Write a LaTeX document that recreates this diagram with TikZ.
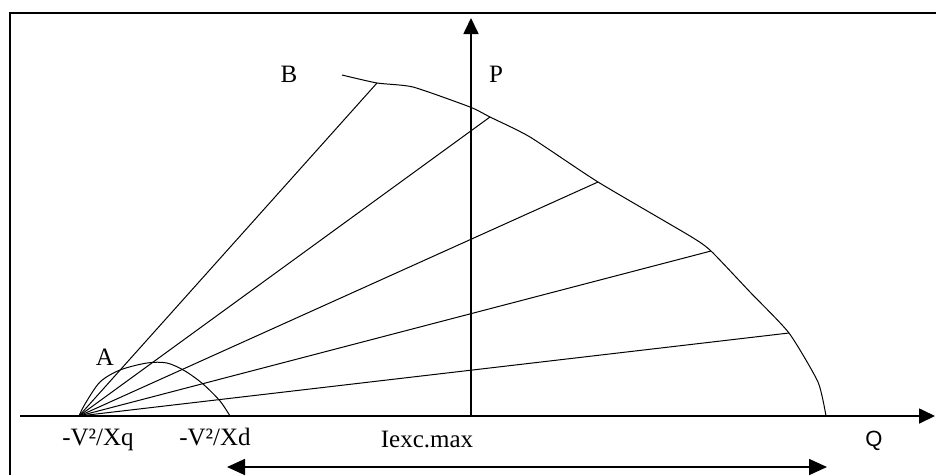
\documentclass[tikz,border=0pt]{standalone}
\usepackage{fontspec}
\setmainfont{Liberation Serif}
\newfontfamily\qfont{Liberation Sans}
\usetikzlibrary{arrows.meta}
\begin{document}
\begin{tikzpicture}[x=1pt,y=-1pt,
  thinline/.style={line width=1pt},
  axis/.style={line width=1.7pt, -{Triangle[length=16pt,width=15pt]}},
  dimarrow/.style={line width=1.7pt, {Triangle[length=18pt,width=16pt]}-{Triangle[length=18pt,width=16pt]}},
  lbl/.style={inner sep=0pt, anchor=base, font=\fontsize{25}{25}\selectfont},
]
\useasboundingbox (0,0) rectangle (936,475);
% frame
\draw[line width=2pt] (10,475) -- (10,12.5) -- (936,12.5);
% axes
\coordinate (Qs) at (20,416);
\coordinate (Qe) at (935,416);
\coordinate (Ps) at (471,416);
\coordinate (Pe) at (471,18);
\draw[axis] (Qs) -- (Qe);
\draw[axis] (Ps) -- (Pe);
% origin of fan
\coordinate (O) at (79,416);
% end points on the outer curve
\coordinate (e1) at (377,83);
\coordinate (e2) at (490,117);
\coordinate (e3) at (598,182);
\coordinate (e4) at (711,251);
\coordinate (e5) at (789,333);
% outer curve
\draw[thinline] plot[smooth, tension=0.35] coordinates
  {(342,75) (377,83) (413,87) (470,107) (490,117) (530,137) (598,182) (690,236) (711,251) (750,292) (789,333) (818,382) (826,416)};
% fan lines
\foreach \e in {e1,e2,e3,e4,e5}
  \draw[thinline] (O) -- (\e);
% small arc
\draw[thinline] plot[smooth, tension=0.5] coordinates
  {(79,416) (85,404) (100,382) (120,370) (147,363) (167,363) (185,371) (203,384) (220,401) (230,416)};
% bottom double arrow
\coordinate (L) at (227,467);
\coordinate (R) at (827,467);
\draw[dimarrow] (L) -- (R);
% labels
\node[lbl] (lB) at (289,82) {B};
\node[lbl] (lP) at (496,82) {P};
\node[lbl] (lA) at (105,365) {A};
\node[lbl] (lXq) at (98,445) {-V²/Xq};
\node[lbl] (lXd) at (215,445) {-V²/Xd};
\node[lbl] (lI) at (427,447) {Iexc.max};
\node[lbl, font=\qfont\fontsize{22}{22}\selectfont] (lQ) at (874,446) {Q};
\end{tikzpicture}
\end{document}
